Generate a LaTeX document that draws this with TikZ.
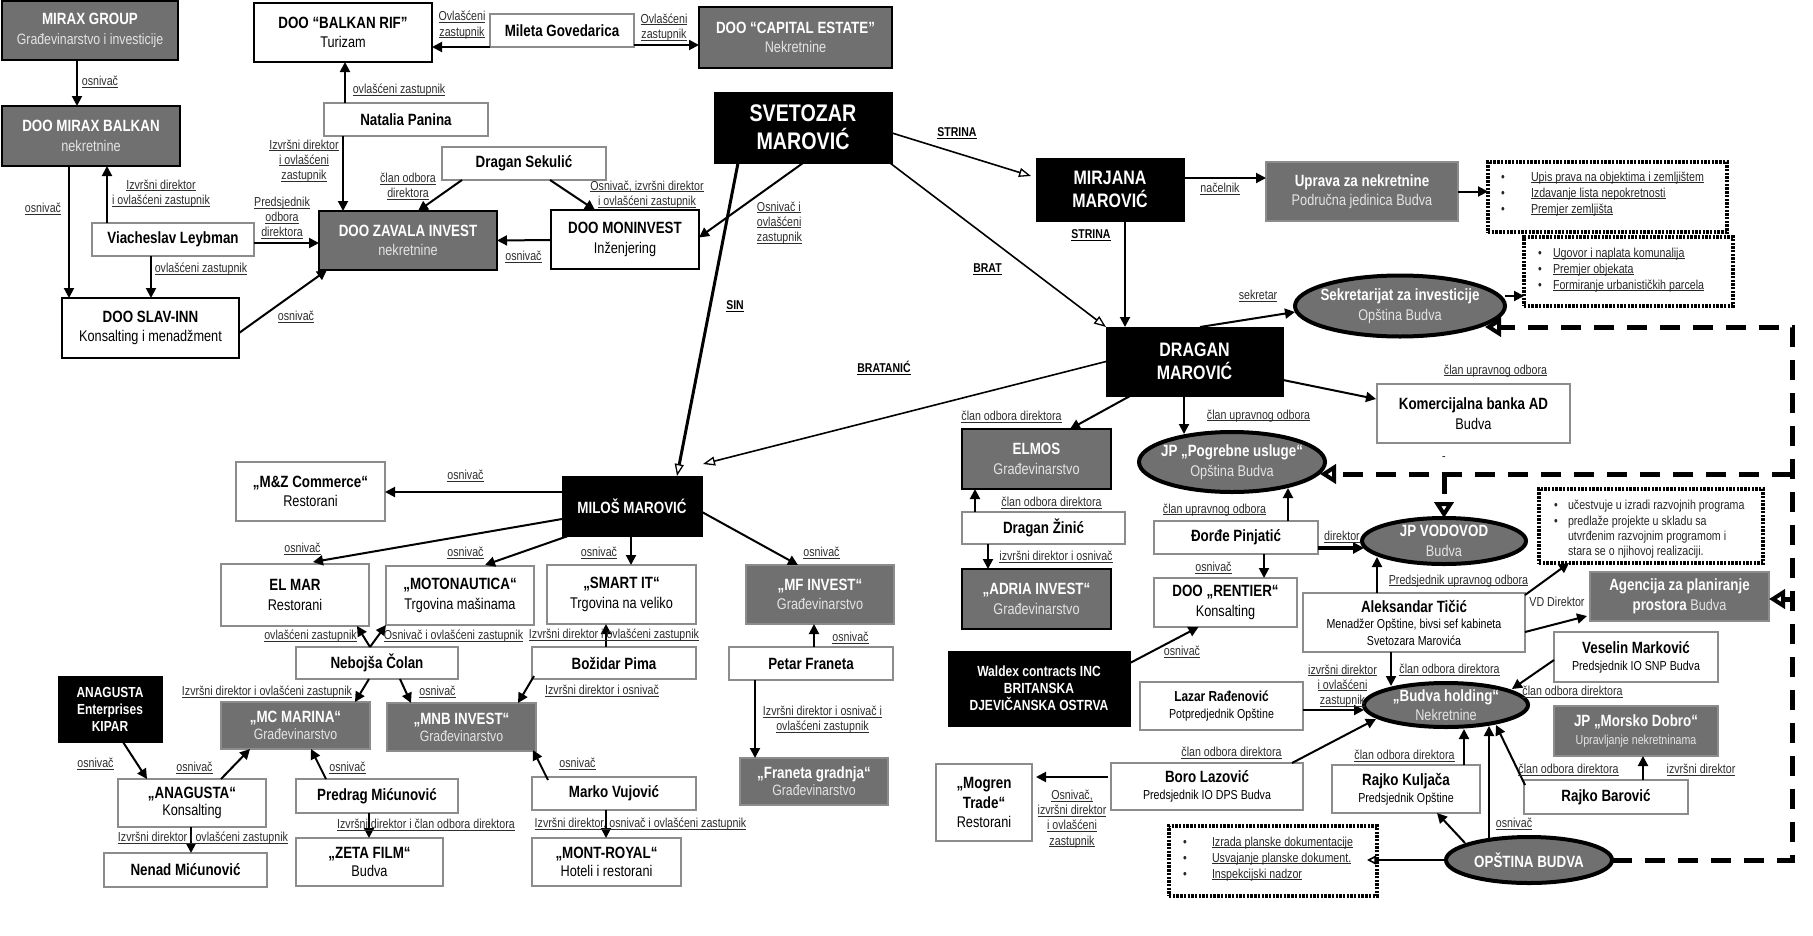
\documentclass[tikz,border=0pt]{standalone}
\usepackage{fontspec}
\setmainfont{Liberation Sans}[FakeStretch=0.82]
\newcommand\uline[1]{\setbox0\hbox{#1}\leavevmode\rlap{\rule[-2pt]{\wd0}{0.9pt}}\box0}
\usetikzlibrary{shapes.geometric,arrows.meta}
\definecolor{boxgray}{RGB}{112,112,112}
\definecolor{bordgray}{RGB}{140,140,140}
\definecolor{sublt}{RGB}{228,228,228}
\definecolor{labgray}{RGB}{45,45,45}
\newcounter{lb}
\newcommand\Ttl[1]{{\fontsize{16.3}{19.5}\selectfont\bfseries #1}}
\newcommand\Sub[1]{\textcolor{sublt}{#1}}
\newcommand\bx[7]{\pgfmathsetmacro\bxw{#5-#3}\pgfmathsetmacro\bxh{#6-#4}%
  \node[#2,minimum width=\bxw pt,minimum height=\bxh pt,anchor=north west] (#1) at (#3,#4) {#7};}
\newcommand\el[6]{\node[ell,minimum width=#4 pt,minimum height=#5 pt] (#1) at (#2,#3) {};
  \node[base,text=white] (#1t) at (#2,#3) {#6};}
\newcommand\lab[3][]{\stepcounter{lb}\node[lbl,#1] (L\arabic{lb}) at (#2) {#3};}
\tikzset{
 base/.style={inner sep=0pt, outer sep=0pt, align=center, font=\fontsize{15.5}{19.5}\selectfont},
 wbox/.style={base, draw=bordgray, line width=1.3pt, fill=white, text=black},
 kbox/.style={base, draw=black, line width=2pt, fill=white, text=black},
 gbox/.style={base, draw=black, line width=2pt, fill=boxgray, text=white},
 gboxl/.style={base, draw=bordgray, line width=1.2pt, fill=boxgray, text=white},
 bbox/.style={base, draw=black, fill=black, text=white},
 ell/.style={ellipse, inner sep=0pt, outer sep=0pt, draw=black, line width=4pt, fill=boxgray},
 dbox/.style={draw=black, line width=3.3pt, dash pattern=on 2.4pt off 1.3pt, inner sep=0pt, outer sep=0pt},
 arr/.style={line width=2pt, -{Triangle[length=10pt,width=10pt]}},
 fam/.style={line width=1.6pt, -{Triangle[open,length=12pt,width=9pt,line width=1.3pt]}},
 dsh/.style={line width=5pt, dash pattern=on 20pt off 13pt, -{Triangle[open,length=16pt,width=19pt,line width=4pt]}},
 lbl/.style={inner sep=0pt, outer sep=0pt, align=center, text=labgray, font=\fontsize{13}{15.2}\selectfont},
 flbl/.style={text=black, font=\fontsize{12.8}{15}\selectfont\bfseries},
 dtxt/.style={text=black!85},
}
\begin{document}
\begin{tikzpicture}[x=1pt,y=-1pt]
\useasboundingbox (0,0) rectangle (1813,935);
\fill[white] (0,0) rectangle (1813,935);

% ---------- top left ----------
\bx{mirax}{gbox}{2}{1}{178}{60}{\Ttl{MIRAX GROUP}\\\Sub{\fontsize{15}{19}\selectfont Građevinarstvo i investicije}}
\bx{miraxb}{gbox}{2}{106}{180}{166}{\Ttl{DOO MIRAX BALKAN}\\\Sub{nekretnine}}
\bx{leyb}{wbox}{92}{223}{254}{256}{\Ttl{Viacheslav Leybman}}
\bx{slav}{kbox}{62}{298}{239}{358}{\Ttl{DOO SLAV-INN}\\Konsalting i menadžment}
\bx{rif}{kbox}{254}{3}{432}{62}{\Ttl{DOO “BALKAN RIF”}\\Turizam}
\bx{panina}{wbox}{324}{103}{488}{136}{\Ttl{Natalia Panina}}
\bx{zavala}{gbox}{319}{211}{497}{270}{\Ttl{DOO ZAVALA INVEST}\\\Sub{nekretnine}}
\bx{sekulic}{wbox}{442}{147}{606}{180}{\Ttl{Dragan Sekulić}}
\bx{monin}{kbox}{551}{210}{699}{269}{\Ttl{DOO MONINVEST}\\Inženjering}
\bx{mileta}{wbox}{490}{14}{634}{47}{\Ttl{Mileta Govedarica}}
\bx{capital}{gbox}{699}{7}{892}{68}{\Ttl{DOO “CAPITAL ESTATE”}\\\Sub{Nekretnine}}
\bx{svet}{bbox,font=\fontsize{24}{28}\selectfont\bfseries}{714}{92}{892}{163}{SVETOZAR\\MAROVIĆ}

% ---------- top right ----------
\bx{mirjana}{bbox,font=\fontsize{19.5}{23}\selectfont\bfseries}{1036}{158}{1184}{221}{MIRJANA\\MAROVIĆ}
\bx{uprava}{gboxl}{1266}{162}{1458}{221}{\Ttl{Uprava za nekretnine}\\\Sub{Područna jedinica Budva}}
\bx{dragan}{bbox,font=\fontsize{19.5}{23}\selectfont\bfseries}{1106}{327}{1283}{396}{DRAGAN\\MAROVIĆ}
\bx{komerc}{wbox}{1377}{384}{1570}{443}{\Ttl{Komercijalna banka AD}\\Budva}
\bx{elmos}{gbox}{962}{429}{1111}{489}{\Ttl{ELMOS}\\\Sub{Građevinarstvo}}
\bx{zinic}{wbox}{962}{512}{1125}{544}{\Ttl{Dragan Žinić}}
\bx{adria}{gbox}{962}{569}{1111}{629}{\Ttl{„ADRIA INVEST“}\\\Sub{Građevinarstvo}}
\bx{pinj}{wbox}{1154}{521}{1318}{554}{\Ttl{Đorđe Pinjatić}}
\bx{rentier}{wbox}{1154}{578}{1297}{627}{\Ttl{DOO „RENTIER“}\\Konsalting}
\bx{waldex}{bbox,font=\fontsize{14.7}{17}\selectfont\bfseries}{948}{651}{1130}{726}{Waldex contracts INC\\BRITANSKA\\DJEVIČANSKA OSTRVA}
\bx{ticic}{wbox,font=\fontsize{13}{16.5}\selectfont}{1303}{593}{1525}{652}{\Ttl{Aleksandar Tičić}\\Menadžer Opštine, bivsi sef kabineta\\Svetozara Marovića}
\bx{agencija}{gboxl}{1590}{572}{1769}{621}{\Ttl{Agencija za planiranje}\\\Ttl{prostora} \Sub{Budva}}
\bx{veselin}{wbox,font=\fontsize{13}{17}\selectfont}{1554}{632}{1718}{682}{\Ttl{Veselin Marković}\\Predsjednik IO SNP Budva}
\bx{lazar}{wbox,font=\fontsize{13}{17}\selectfont}{1140}{682}{1303}{730}{{\fontsize{14.5}{17}\selectfont\bfseries Lazar Rađenović}\\Potpredjednik Opštine}
\bx{boro}{wbox,font=\fontsize{13}{17}\selectfont}{1111}{763}{1303}{810}{\Ttl{Boro Lazović}\\Predsjednik IO DPS Budva}
\bx{mogren}{wbox}{936}{764}{1032}{841}{\Ttl{„Mogren}\\\Ttl{Trade“}\\Restorani}
\bx{kuljaca}{wbox,font=\fontsize{13}{17}\selectfont}{1332}{765}{1480}{813}{\Ttl{Rajko Kuljača}\\Predsjednik Opštine}
\bx{barovic}{wbox}{1524}{780}{1688}{814}{\Ttl{Rajko Barović}}
\bx{morsko}{gboxl,font=\fontsize{13}{18}\selectfont}{1554}{706}{1718}{756}{\Ttl{JP „Morsko Dobro“}\\\Sub{Upravljanje nekretninama}}

\el{sekr}{1400}{306}{210}{61}{\Ttl{Sekretarijat za investicije}\\\Sub{Opština Budva}}
\el{pogreb}{1232}{462}{186}{60}{\Ttl{JP „Pogrebne usluge“}\\\Sub{Opština Budva}}
\el{vodovod}{1444}{541}{164}{46}{\Ttl{JP VODOVOD}\\\Sub{Budva}}
\el{holding}{1446}{705}{164}{44}{\Ttl{„Budva holding“}\\\Sub{Nekretnine}}
\el{opstina}{1529}{860}{166}{46}{\Ttl{OPŠTINA BUDVA}}

% dotted boxes
\bx{dot1}{dbox}{1488}{162}{1727}{232}{}
\bx{dot2}{dbox}{1524}{237}{1733}{306}{}
\bx{dot3}{dbox}{1539}{489}{1763}{563}{}
\bx{dot4}{dbox}{1169}{826}{1377}{896}{}

% ---------- bottom left ----------
\bx{milos}{bbox,font=\fontsize{16.3}{19}\selectfont\bfseries}{562}{476}{702}{536}{MILOŠ MAROVIĆ}
\bx{mz}{wbox}{236}{462}{385}{521}{\Ttl{„M\&Z Commerce“}\\Restorani}
\bx{elmar}{wbox}{221}{564}{369}{626}{\Ttl{EL MAR}\\Restorani}
\bx{moto}{wbox}{386}{566}{534}{625}{\Ttl{„MOTONAUTICA“}\\Trgovina mašinama}
\bx{smart}{wbox}{547}{565}{696}{624}{\Ttl{„SMART IT“}\\Trgovina na veliko}
\bx{mfinv}{gboxl}{746}{565}{894}{624}{\Ttl{„MF INVEST“}\\\Sub{Građevinarstvo}}
\bx{petar}{wbox}{729}{647}{893}{680}{\Ttl{Petar Franeta}}
\bx{franeta}{gboxl,font=\fontsize{15}{17}\selectfont}{740}{758}{888}{805}{\Ttl{„Franeta gradnja“}\\\Sub{Građevinarstvo}}
\bx{nebojsa}{wbox}{296}{647}{458}{679}{\Ttl{Nebojša Čolan}}
\bx{mcmarina}{gboxl,font=\fontsize{15}{17}\selectfont}{221}{702}{370}{749}{\Ttl{„MC MARINA“}\\\Sub{Građevinarstvo}}
\bx{mnb}{gboxl,font=\fontsize{15}{17}\selectfont}{387}{703}{536}{751}{\Ttl{„MNB INVEST“}\\\Sub{Građevinarstvo}}
\bx{bozidar}{wbox}{532}{647}{696}{679}{\Ttl{Božidar Pima}}
\bx{marko}{wbox}{532}{777}{696}{810}{\Ttl{Marko Vujović}}
\bx{montroyal}{wbox,font=\fontsize{15.5}{18}\selectfont}{532}{838}{681}{886}{\Ttl{„MONT-ROYAL“}\\Hoteli i restorani}
\bx{anagent}{bbox,font=\fontsize{14.6}{17}\selectfont\bfseries}{58}{676}{162}{742}{ANAGUSTA\\Enterprises\\KIPAR}
\bx{anagusta}{wbox,font=\fontsize{15.5}{17}\selectfont}{118}{779}{266}{827}{\Ttl{„ANAGUSTA“}\\Konsalting}
\bx{nenad}{wbox}{104}{853}{267}{887}{\Ttl{Nenad Mićunović}}
\bx{predrag}{wbox}{296}{779}{458}{813}{\Ttl{Predrag Mićunović}}
\bx{zeta}{wbox,font=\fontsize{15.5}{18}\selectfont}{296}{838}{443}{886}{\Ttl{„ZETA FILM“}\\Budva}

% ---------- connectors ----------
\draw[arr] ([shift={(-13,0)}]mirax.south) -- ([shift={(-14,0)}]miraxb.north);
\draw[arr] ([shift={(-22,0)}]miraxb.south) -- ([shift={(-81.5,0)}]slav.north);
\draw[arr] ([shift={(-66,0)}]leyb.north) -- ([shift={(16,0)}]miraxb.south);
\draw[arr] ([shift={(-22,0)}]leyb.south) -- ([shift={(0.5,0)}]slav.north);
\draw[arr] ([shift={(0,3.5)}]leyb.east) -- ([shift={(0,2.5)}]zavala.west);
\draw[arr] ([shift={(0,5)}]slav.east) -- ([shift={(8,0)}]zavala.south west);
\draw[arr] ([shift={(-61,0)}]panina.north) -- ([shift={(2,0)}]rif.south);
\draw[arr] ([shift={(-63,0)}]panina.south) -- ([shift={(-65,0)}]zavala.north);
\draw[arr] ([shift={(-62,0)}]sekulic.south) -- ([shift={(10,0)}]zavala.north);
\draw[arr] ([shift={(26,0)}]sekulic.south) -- ([shift={(-30,0)}]monin.north);
\draw[arr] ([shift={(0,0.5)}]monin.west) -- (zavala.east);
\draw[arr] ([shift={(0,16.5)}]mileta.west) -- ([shift={(0,14.5)}]rif.east);
\draw[arr] ([shift={(0,14.5)}]mileta.east) -- ([shift={(0,7.5)}]capital.west);
\draw[fam,line width=3pt] ([shift={(-65,0)}]svet.south) -- ([shift={(45,0)}]milos.north);
\draw[arr] (svet.south) -- ([shift={(0,-2)}]monin.east);
\draw[fam] ([shift={(0,5.5)}]svet.east) -- ([shift={(-5,-13.5)}]mirjana.west);
\draw[fam] ([shift={(-2,0)}]svet.south east) -- (dragan.north west);
\draw[arr] ([shift={(0,-11.5)}]mirjana.east) -- ([shift={(0,-13.5)}]uprava.west);
\draw[arr] ([shift={(15,0)}]mirjana.south) -- ([shift={(-69.5,0)}]dragan.north);
\draw[arr] (uprava.east) -- ([shift={(0,-5.5)}]dot1.west);
\draw[arr] ([shift={(0,-10)}]sekr.east) -- ([shift={(0,24.5)}]dot2.west);
\draw[arr] ([shift={(5.5,0)}]dragan.north) -- ([shift={(0,6)}]sekr.west);
\draw[fam] (dragan.west) -- ([shift={(1,-12)}]milos.north east);
\draw[arr] ([shift={(0,18.5)}]dragan.east) -- ([shift={(-1,-14.5)}]komerc.west);
\draw[arr] ([shift={(-64.5,0)}]dragan.south) -- ([shift={(33.5,0)}]elmos.north);
\draw[arr] ([shift={(-10.5,0)}]dragan.south) -- ([shift={(-48,2)}]pogreb.north);
\draw[arr] ([shift={(-68.5,0)}]zinic.north) -- ([shift={(-61.5,0)}]elmos.south);
\draw[arr] ([shift={(-55.5,0)}]zinic.south) -- ([shift={(-48.5,0)}]adria.north);
\draw[arr] ([shift={(52,0)}]pinj.north) -- ([shift={(56,-4)}]pogreb.south);
\draw[arr] ([shift={(28,0)}]pinj.south) -- ([shift={(38.5,0)}]rentier.north);
\draw[line width=4pt,-{Triangle[length=11pt,width=11pt]}] ([shift={(0,10.5)}]pinj.east) -- ([shift={(2,7)}]vodovod.west);
\draw[arr] ([shift={(0,12)}]waldex.north east) -- ([shift={(-27,0)}]rentier.south);
\draw[arr] ([shift={(-37,0)}]ticic.north) -- ([shift={(-67,-7)}]vodovod.south);
\draw[arr] ([shift={(0,2)}]ticic.north east) -- ([shift={(30,0)}]dot3.south west);
\draw[arr] ([shift={(0,9.5)}]ticic.east) -- ([shift={(-3,19.5)}]agencija.west);
\draw[arr] ([shift={(-23,0)}]ticic.south) -- ([shift={(-55,3)}]holding.north);
\draw[arr] ([shift={(0,3)}]veselin.west) -- ([shift={(66,-16)}]holding.center);
\draw[arr] ([shift={(0,4)}]lazar.east) -- ([shift={(0,5)}]holding.west);
\draw[arr] ([shift={(85,0)}]boro.north) -- ([shift={(-70,14)}]holding.center);
\draw[arr] ([shift={(-3,-9.5)}]boro.west) -- ([shift={(4,-25.5)}]mogren.east);
\draw[arr] ([shift={(58,0)}]kuljaca.north) -- ([shift={(18,2)}]holding.south);
\draw[arr] ([shift={(1,5)}]barovic.north west) -- ([shift={(50,-2)}]holding.south);
\draw[arr] ([shift={(37,0)}]barovic.north) -- ([shift={(7,0)}]morsko.south);
\draw[arr] ([shift={(-40,3)}]opstina.north) -- ([shift={(43,-1)}]holding.south);
\draw[arr] ([shift={(-64,-17)}]opstina.center) -- ([shift={(31,0)}]kuljaca.south);
\draw[line width=1.6pt,-{Triangle[open,length=9pt,width=9pt]}] (opstina.west) -- ([shift={(-10,-1)}]dot4.east);

\draw[arr] ([shift={(0,-14)}]milos.west) -- ([shift={(0,0.5)}]mz.east);
\draw[arr] ([shift={(0,13)}]milos.west) -- ([shift={(18,-2)}]elmar.north);
\draw[arr] ([shift={(6,0)}]milos.south west) -- ([shift={(25,-1)}]moto.north);
\draw[arr] ([shift={(-1,0)}]milos.south) -- ([shift={(9.5,0)}]smart.north);
\draw[arr] ([shift={(0,6)}]milos.east) -- ([shift={(-22,0)}]mfinv.north);
\draw[arr] ([shift={(3,0)}]petar.north) -- ([shift={(-6,0)}]mfinv.south);
\draw[arr] ([shift={(-56,0)}]petar.south) -- ([shift={(-59,0)}]franeta.north);
\draw[arr] ([shift={(-7,0)}]nebojsa.north) -- ([shift={(-12,0)}]elmar.south east);
\draw[arr] ([shift={(-7,0)}]nebojsa.north) -- (moto.south west);
\draw[arr] ([shift={(-8,0)}]nebojsa.south) -- ([shift={(-15,0)}]mcmarina.north east);
\draw[arr] ([shift={(23,0)}]nebojsa.south) -- ([shift={(-50.5,0)}]mnb.north);
\draw[arr] ([shift={(-8,0)}]bozidar.north) -- ([shift={(-15.5,0)}]smart.south);
\draw[arr] ([shift={(2,-3)}]bozidar.south west) -- ([shift={(-18,0)}]mnb.north east);
\draw[arr] ([shift={(16,3)}]marko.north west) -- ([shift={(-3,-1)}]mnb.south east);
\draw[arr] ([shift={(-8,0)}]marko.south) -- ([shift={(-0.5,0)}]montroyal.north);
\draw[arr] ([shift={(13,0)}]anagent.south) -- ([shift={(-45,0)}]anagusta.north);
\draw[arr] ([shift={(29,0)}]anagusta.north) -- ([shift={(-45.5,0)}]mcmarina.south);
\draw[arr] ([shift={(-1,0)}]anagusta.south) -- ([shift={(5.5,0)}]nenad.north);
\draw[arr] ([shift={(-51,0)}]predrag.north) -- ([shift={(15.5,0)}]mcmarina.south);
\draw[arr] ([shift={(-8,0)}]predrag.south) -- ([shift={(-0.5,0)}]zeta.north);

% dashed connectors
\coordinate (dA) at (1792,860);
\coordinate (dB) at (1792,327);
\coordinate (dC) at (1792,474);
\coordinate (dD) at (1444,474);
\coordinate (dE) at (1792,599);
\draw[dsh] (opstina.east) -- (dA) -- (dB) -- ([shift={(85,21)}]sekr.center);
\draw[dsh] (dC) -- ([shift={(88,12)}]pogreb.center);
\draw[dsh] (dD) -- (vodovod.north);
\draw[dsh] (dE) -- ([shift={(0,2.5)}]agencija.east);

% ---------- labels ----------
\lab{100,82}{\uline{osnivač}}
\lab{43,209}{\uline{osnivač}}
\lab{161,193.5}{\uline{Izvršni direktor}\\\uline{i ovlašćeni zastupnik}}
\lab{201,269}{\uline{ovlašćeni zastupnik}}
\lab{282,218}{\uline{Predsjednik}\\\uline{odbora}\\\uline{direktora}}
\lab{296,317}{\uline{osnivač}}
\lab{399,90}{\uline{ovlašćeni zastupnik}}
\lab{304,161}{\uline{Izvršni direktor}\\\uline{i ovlašćeni}\\\uline{zastupnik}}
\lab{408,186.5}{\uline{član odbora}\\\uline{direktora}}
\lab{462,25}{\uline{Ovlašćeni}\\\uline{zastupnik}}
\lab{664,27.5}{\uline{Ovlašćeni}\\\uline{zastupnik}}
\lab{647,194.5}{\uline{Osnivač, izvršni direktor}\\\uline{i ovlašćeni zastupnik}}
\lab{523.5,257}{\uline{osnivač}}
\lab[align=left]{779.5,223}{\uline{Osnivač i}\\\uline{ovlašćeni}\\\uline{zastupnik}}
\lab[flbl]{735,306}{\uline{SIN}}
\lab[flbl]{957,133}{\uline{STRINA}}
\lab[flbl]{1091,235}{\uline{STRINA}}
\lab[flbl]{987.5,269}{\uline{BRAT}}
\lab[flbl]{884,368}{\uline{BRATANIĆ}}
\lab{1220,189}{\uline{načelnik}}
\lab{1258,296}{\uline{sekretar}}
\lab{1011.5,417}{\uline{član odbora direktora}}
\lab{1258.5,416}{\uline{član upravnog odbora}}
\lab{1495.5,371}{\uline{član upravnog odbora}}
\lab{1051.5,503}{\uline{član odbora direktora}}
\lab{1056,557}{\uline{izvršni direktor i osnivač}}
\lab{1214.5,510}{\uline{član upravnog odbora}}
\lab{1213.5,568}{\uline{osnivač}}
\lab{1342,537}{\uline{direktor}}
\lab{1444,459}{-}
\lab{1458.5,581}{\uline{Predsjednik upravnog odbora}}
\lab{1557,602}{VD Direktor}
\lab{1182,652}{\uline{osnivač}}
\lab{1342.5,686}{\uline{izvršni direktor}\\\uline{i ovlašćeni}\\\uline{zastupnik}}
\lab{1449.5,670}{\uline{član odbora direktora}}
\lab{1572.5,692}{\uline{član odbora direktora}}
\lab{1231.5,753}{\uline{član odbora direktora}}
\lab{1404.5,756}{\uline{član odbora direktora}}
\lab{1568.5,770}{\uline{član odbora direktora}}
\lab{1701,770}{\uline{izvršni direktor}}
\lab{1514,824}{\uline{osnivač}}
\lab{1072,819}{\uline{Osnivač,}\\\uline{izvršni direktor}\\\uline{i ovlašćeni}\\\uline{zastupnik}}
\lab{465.5,476}{\uline{osnivač}}
\lab{302.5,549}{\uline{osnivač}}
\lab{465.5,553}{\uline{osnivač}}
\lab{599,553}{\uline{osnivač}}
\lab{821.5,553}{\uline{osnivač}}
\lab{850.5,638}{\uline{osnivač}}
\lab{822.5,720}{\uline{Izvršni direktor i osnivač i}\\\uline{ovlašćeni zastupnik}}
\lab{310.5,636}{\uline{ovlašćeni zastupnik}}
\lab{453.5,636}{\uline{Osnivač i ovlašćeni zastupnik}}
\lab{267,692}{\uline{Izvršni direktor i ovlašćeni zastupnik}}
\lab{437.5,692}{\uline{osnivač}}
\lab{614,635}{\uline{Izvršni direktor i ovlašćeni zastupnik}}
\lab{602,691}{\uline{Izvršni direktor i osnivač}}
\lab{577.5,764}{\uline{osnivač}}
\lab{640.5,824}{\uline{Izvršni direktor, osnivač i ovlašćeni zastupnik}}
\lab{95.5,764}{\uline{osnivač}}
\lab{194.5,768}{\uline{osnivač}}
\lab{347.5,768}{\uline{osnivač}}
\lab{203,838}{\uline{Izvršni direktor i ovlašćeni zastupnik}}
\lab{426,825}{\uline{Izvršni direktor i član odbora direktora}}

% dotted box contents
\lab[dtxt]{1503,178}{•}\lab[dtxt,anchor=west]{1531,178}{\uline{Upis prava na objektima i zemljištem}}
\lab[dtxt]{1503,194}{•}\lab[dtxt,anchor=west]{1531,194}{\uline{Izdavanje lista nepokretnosti}}
\lab[dtxt]{1503,210}{•}\lab[dtxt,anchor=west]{1531,210}{\uline{Premjer zemljišta}}
\lab[dtxt]{1540,254}{•}\lab[dtxt,anchor=west]{1553,254}{\uline{Ugovor i naplata komunalija}}
\lab[dtxt]{1540,270}{•}\lab[dtxt,anchor=west]{1553,270}{\uline{Premjer objekata}}
\lab[dtxt]{1540,286}{•}\lab[dtxt,anchor=west]{1553,286}{\uline{Formiranje urbanističkih parcela}}
\lab[dtxt]{1556,506}{•}\lab[dtxt,anchor=west]{1568,506}{učestvuje u izradi razvojnih programa}
\lab[dtxt]{1556,522}{•}\lab[dtxt,anchor=west]{1568,522}{predlaže projekte u skladu sa}
\lab[dtxt,anchor=west]{1568,537}{utvrđenim razvojnim programom i}
\lab[dtxt,anchor=west]{1568,552}{stara se o njihovoj realizaciji.}
\lab[dtxt]{1185,843}{•}\lab[dtxt,anchor=west]{1212,843}{\uline{Izrada planske dokumentacije}}
\lab[dtxt]{1185,859}{•}\lab[dtxt,anchor=west]{1212,859}{\uline{Usvajanje planske dokument.}}
\lab[dtxt]{1185,875}{•}\lab[dtxt,anchor=west]{1212,875}{\uline{Inspekcijski nadzor}}
\end{tikzpicture}
\end{document}
